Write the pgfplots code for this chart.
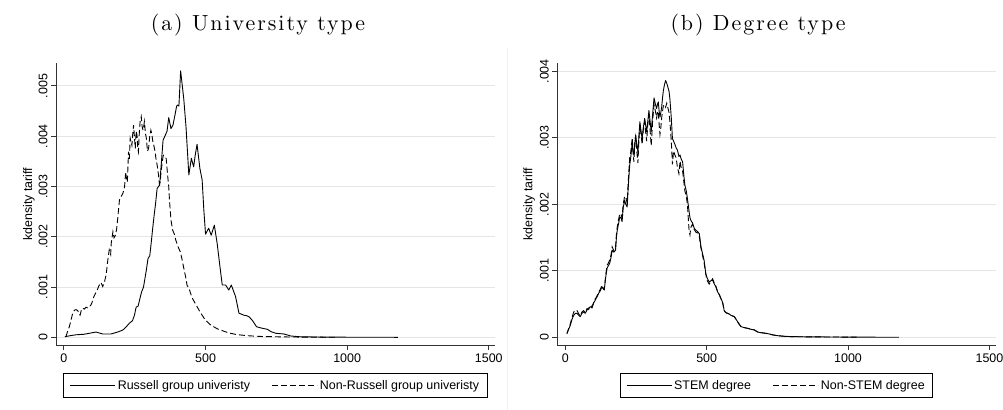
\documentclass[border=0pt]{standalone}
\usepackage{fontspec}
\setsansfont{Liberation Sans}
\newfontfamily\titlefont{lmroman10-regular.otf}[LetterSpace=9]
\usepackage{pgfplots}
\usepackage{pgfplotstable}
\pgfplotsset{compat=1.18}

% kernel density of tariff, y in units of 0.001
\pgfplotstableread{
x y
3 0.01
20 0.03
42 0.05
70 0.06
90 0.08
113 0.105
137 0.066
166 0.066
190 0.105
208 0.145
220 0.21
231 0.28
242 0.33
249 0.44
255 0.6
262 0.62
267 0.74
274 0.9
281 1.0
287 1.2
291 1.34
297 1.57
303 1.62
308 1.87
314 2.2
320 2.5
323 2.63
329 2.96
338 3.03
346 3.62
350 3.92
358 4.02
364 4.1
370 4.37
378 4.15
385 4.22
393 4.45
398 4.6
402 4.62
406 4.6
412 5.3
418 5.0
423 4.75
431 4.19
441 3.23
450 3.56
458 3.39
463 3.6
470 3.84
480 3.36
488 3.13
494 2.53
500 2.05
511 2.17
520 2.03
531 2.23
541 1.87
551 1.40
559 1.04
571 1.04
582 0.94
591 1.04
606 0.81
618 0.48
627 0.46
635 0.44
645 0.43
653 0.41
665 0.34
680 0.21
700 0.18
718 0.16
732 0.11
748 0.08
777 0.066
801 0.026
836 0.01
900 0.005
1000 0.002
1179 0.0
}\russell

\pgfplotstableread{
x y
7 0.01
13 0.12
19 0.21
25 0.34
31 0.48
37 0.54
43 0.55
49 0.53
53 0.47
57 0.44
62 0.55
66 0.58
72 0.56
78 0.60
84 0.58
90 0.61
95 0.64
99 0.69
105 0.80
111 0.87
117 0.93
123 1.02
131 1.09
137 1.01
143 1.10
149 1.24
155 1.54
160 1.74
165 1.65
167 1.87
173 2.10
177 1.98
182 2.03
186 2.15
190 2.37
196 2.73
202 2.80
208 2.86
214 2.99
218 3.29
220 3.19
224 3.09
228 3.69
231 3.55
234 3.96
240 3.82
243 4.05
246 4.22
250 3.90
252 3.76
255 4.10
258 4.02
261 3.75
263 3.69
266 4.05
269 4.29
273 4.39
276 4.20
279 4.12
282 4.20
284 4.29
288 4.05
291 3.96
295 3.70
299 3.76
303 4.00
307 4.12
310 4.05
314 3.89
318 3.80
322 3.69
325 3.55
329 3.43
334 3.23
337 3.05
340 3.09
343 3.30
346 3.43
350 3.60
352 3.62
357 3.58
361 3.56
366 3.23
370 3.00
373 2.70
378 2.33
384 2.13
390 2.05
395 1.93
403 1.80
411 1.70
417 1.55
423 1.38
429 1.22
435 1.03
441 0.98
447 0.88
453 0.78
461 0.70
470 0.61
479 0.52
488 0.44
497 0.36
506 0.31
517 0.25
529 0.21
541 0.17
553 0.145
570 0.11
588 0.08
605 0.06
624 0.046
648 0.032
671 0.024
700 0.016
736 0.012
800 0.006
880 0.003
960 0.001
}\nonrussell

\pgfplotstableread{
x y
6 0.06
12 0.12
18 0.18
24 0.27
30 0.33
36 0.36
42 0.36
48 0.33
53 0.31
59 0.36
65 0.38
71 0.36
77 0.41
83 0.44
89 0.46
95 0.44
100 0.51
105 0.55
110 0.59
114 0.62
118 0.66
124 0.70
130 0.76
134 0.73
138 0.71
143 0.90
148 1.04
153 1.08
157 1.11
162 1.20
166 1.31
172 1.28
178 1.31
181 1.50
184 1.61
189 1.72
193 1.81
197 1.80
201 1.74
205 1.95
210 2.06
214 2.00
219 1.96
222 2.20
225 2.40
228 2.59
231 2.68
234 2.80
237 2.94
240 2.80
243 2.74
246 2.90
249 3.04
253 2.90
257 2.79
261 3.05
264 3.24
268 3.10
272 2.99
276 3.15
281 3.29
284 3.20
288 3.09
292 3.25
296 3.41
300 3.25
304 3.09
309 3.35
314 3.60
318 3.52
323 3.44
326 3.50
329 3.54
332 3.40
335 3.31
338 3.38
341 3.46
344 3.60
347 3.71
351 3.80
355 3.86
359 3.82
363 3.76
367 3.70
370 3.59
375 3.30
379 2.99
383 2.95
387 2.91
392 2.85
397 2.81
402 2.72
406 2.74
410 2.68
415 2.64
419 2.45
423 2.29
428 2.20
432 2.09
438 1.89
441 1.80
444 1.76
450 1.72
456 1.64
462 1.61
468 1.59
474 1.56
480 1.36
486 1.25
491 1.16
497 0.96
501 0.90
509 0.83
515 0.85
521 0.86
527 0.80
533 0.76
539 0.68
545 0.64
551 0.58
557 0.52
562 0.40
568 0.37
574 0.36
580 0.35
586 0.33
592 0.32
598 0.31
604 0.27
610 0.23
616 0.19
622 0.16
633 0.145
645 0.135
657 0.12
669 0.11
680 0.08
690 0.07
700 0.065
716 0.055
735 0.035
751 0.024
775 0.015
800 0.01
850 0.007
950 0.004
1050 0.002
1180 0.0
}\stem

\pgfplotstableread{
x y
6 0.05
12 0.13
18 0.2
24 0.3
30 0.38
36 0.41
42 0.40
48 0.35
53 0.32
59 0.38
65 0.40
71 0.37
77 0.43
83 0.42
89 0.48
95 0.46
100 0.52
105 0.57
110 0.60
114 0.64
118 0.68
124 0.72
130 0.78
134 0.74
138 0.72
143 0.93
148 1.08
153 1.12
157 1.16
162 1.24
166 1.36
172 1.30
178 1.36
181 1.55
184 1.66
189 1.78
193 1.86
197 1.85
201 1.80
205 2.00
210 2.12
214 2.10
219 2.02
222 2.28
225 2.50
228 2.70
231 2.76
234 2.88
237 3.00
240 2.75
243 2.64
246 2.95
249 3.02
253 2.80
257 2.62
261 3.00
264 3.20
268 3.05
272 2.90
276 3.12
281 3.24
284 3.10
288 2.95
292 3.20
296 3.35
300 3.12
304 2.88
309 3.25
314 3.50
318 3.42
323 3.30
326 3.38
329 3.40
332 3.20
335 3.05
338 3.15
341 3.30
344 3.40
347 3.48
351 3.50
355 3.46
359 3.52
363 3.45
367 3.38
370 3.25
375 2.95
379 2.60
383 2.80
387 2.75
392 2.70
397 2.55
402 2.46
406 2.65
410 2.55
415 2.50
419 2.35
423 2.20
428 2.12
432 2.00
438 1.60
441 1.54
444 1.65
450 1.70
456 1.62
462 1.58
468 1.57
474 1.52
480 1.34
486 1.22
491 1.12
497 0.95
501 0.86
509 0.80
515 0.84
521 0.88
527 0.82
533 0.76
539 0.68
545 0.64
551 0.57
557 0.51
562 0.40
568 0.37
574 0.36
580 0.35
586 0.33
592 0.32
598 0.31
604 0.27
610 0.23
616 0.19
622 0.16
633 0.145
645 0.135
657 0.12
669 0.11
680 0.08
690 0.07
700 0.065
716 0.055
735 0.035
751 0.024
775 0.015
800 0.01
850 0.007
950 0.004
1030 0.002
}\nonstem

\newcommand\labfont{\fontsize{12.5}{14}\selectfont\sffamily}

\pgfplotsset{
  kdens/.style={
    scale only axis, height=281.7bp, anchor=south west,
    xmin=-28, xmax=1522,
    axis x line*=bottom, axis y line*=left,
    axis line style={black!80, line width=0.9bp},
    tick align=outside, major tick length=5bp,
    tick style={black!80, line width=0.9bp},
    xtick={0,500,1000,1500}, xticklabels={0,500,1000,1500},
    scaled y ticks=false,
    ymajorgrids, grid style={black!10, line width=1bp},
    ticklabel style={font=\labfont},
    yticklabel style={rotate=90, anchor=south},
    ylabel={kdensity tariff},
    label style={font=\labfont},
    legend columns=2,
    legend cell align=left,
    legend style={anchor=north, draw=black, line width=0.9bp, font=\labfont,
      inner xsep=6bp, inner ysep=4.5bp,
      /tikz/every even column/.append style={column sep=20bp}},
    legend image code/.code={\draw[#1] (0bp,0bp) -- (45bp,0bp);},
  },
  solidk/.style={black, line width=0.9bp, line join=round},
  dashk/.style={black, line width=0.9bp, dash pattern=on 6bp off 3bp},
}

\begin{document}
\begin{tikzpicture}
\path[use as bounding box] (0,0) rectangle (1003bp,410bp);
\draw[black!6, line width=1bp] (507bp,0) -- (507bp,362bp);

\node[anchor=base, font=\titlefont\fontsize{22}{26}\selectfont] at (258bp,379.3bp) {(a) University type};
\node[anchor=base, font=\titlefont\fontsize{22}{26}\selectfont] at (758bp,379.3bp) {(b) Degree type};

\begin{axis}[kdens, at={(56bp,65bp)}, width=439bp,
  ymin=-0.000153, ymax=0.00545,
  ytick={0,0.001,0.002,0.003,0.004,0.005},
  yticklabels={0,.001,.002,.003,.004,.005},
  ylabel style={at={(axis description cs:-0.062,0.5)}, anchor=center},
  legend style={at={(0.5,-0.1)}}]
  \addplot[solidk] table[x=x, y expr=\thisrow{y}/1000] {\russell};
  \addlegendentry{Russell group univeristy}
  \addplot[dashk] table[x=x, y expr=\thisrow{y}/1000] {\nonrussell};
  \addlegendentry{Non-Russell group univeristy}
\end{axis}

\begin{axis}[kdens, at={(557.3bp,65bp)}, width=438.4bp,
  ymin=-0.000116, ymax=0.00412,
  ytick={0,0.001,0.002,0.003,0.004},
  yticklabels={0,.001,.002,.003,.004},
  ylabel style={at={(axis description cs:-0.0645,0.5)}, anchor=center},
  legend style={at={(0.5,-0.1)}}]
  \addplot[solidk] table[x=x, y expr=\thisrow{y}/1000] {\stem};
  \addlegendentry{STEM degree}
  \addplot[dashk] table[x=x, y expr=\thisrow{y}/1000] {\nonstem};
  \addlegendentry{Non-STEM degree}
\end{axis}
\end{tikzpicture}
\end{document}
